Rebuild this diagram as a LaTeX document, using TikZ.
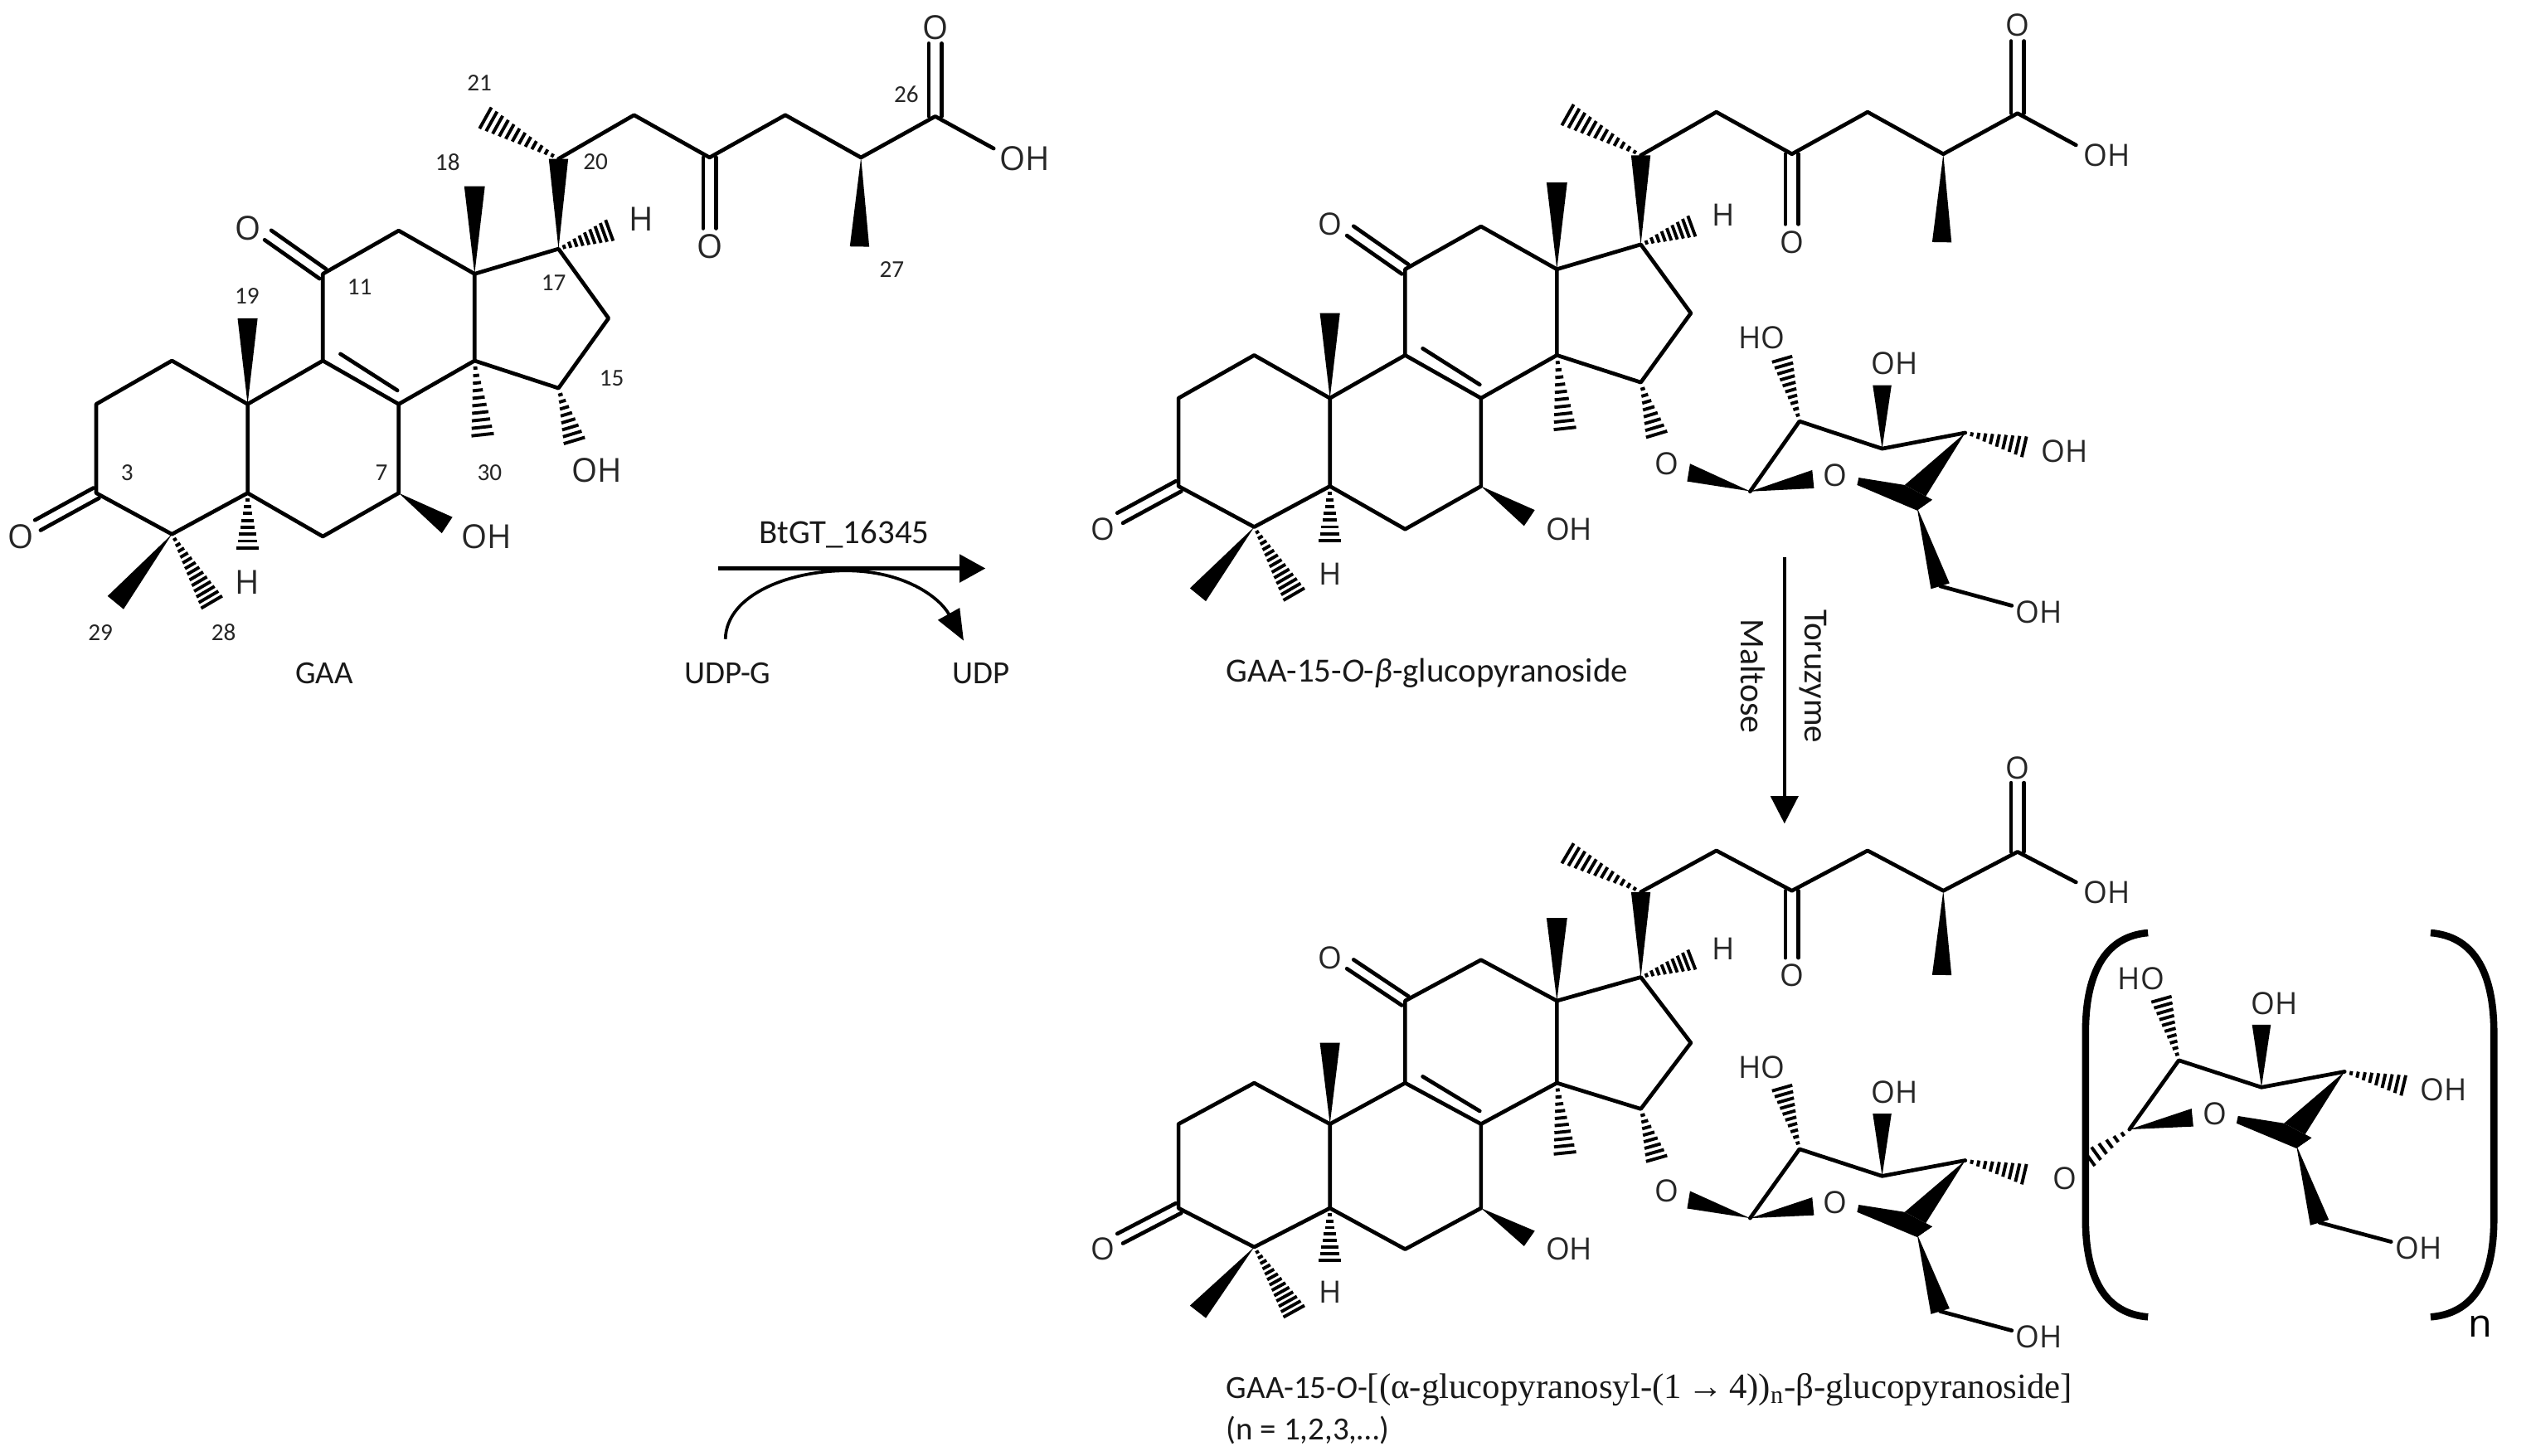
\documentclass[tikz,border=0pt]{standalone}
\usepackage{fontspec}
\setmainfont{Carlito}
\newfontfamily\atomface{Open Sans}
\newfontfamily\serifface{Liberation Serif}
\usetikzlibrary{calc,arrows.meta}
\tikzset{
  bond/.style={line width=2.4pt,line cap=round,line join=round},
  hashline/.style={line width=2pt},
  atom/.style={inner sep=0pt,font=\atomface\fontsize{\atomsize}{\atomsize}\selectfont,text=black!85},
  num/.style={inner sep=0pt,font=\fontsize{15}{15}\selectfont,text=black!85},
  caption/.style={inner sep=0pt,font=\fontsize{20}{24}\selectfont,text=black!90},
  bracket/.style={line width=4.4pt,line cap=butt},
}
\newcommand\wdg[3]{\fill ($(#2)!#3!90:(#1)$) -- ($(#2)!#3!-90:(#1)$) -- (#1) -- cycle;}
\newcommand\hsh[4]{\foreach \i in {1,...,#4}{%
  \pgfmathsetmacro\ff{\i/#4}\pgfmathsetmacro\ww{\ff*#3+0.6}%
  \draw[hashline] ($(#1)!\ff!(#2)!\ww pt!90:(#2)$) -- ($(#1)!\ff!(#2)!\ww pt!-90:(#2)$);}}
\newcommand\dbl[3]{\draw[bond] ($(#1)!#3!90:(#2)$) -- ($(#2)!#3!-90:(#1)$);
  \draw[bond] ($(#1)!#3!-90:(#2)$) -- ($(#2)!#3!90:(#1)$);}
\newcommand\steroid{%
  \coordinate (c1) at (106.5,223.5); \coordinate (c2) at (59.6,250.4);
  \coordinate (c3) at (59.6,305.5); \coordinate (c4) at (106.5,331);
  \coordinate (c5) at (153.4,305.5); \coordinate (c6) at (200,332.4);
  \coordinate (c7) at (247,305.5); \coordinate (c8) at (247,250.4);
  \coordinate (c9) at (200,223.5); \coordinate (c10) at (153.4,250.4);
  \coordinate (c11) at (200,169.7); \coordinate (c12) at (247,142.9);
  \coordinate (c13) at (294,169.7); \coordinate (c14) at (294,223.5);
  \coordinate (c15) at (346,240.5); \coordinate (c16) at (377,197.2);
  \coordinate (c17) at (346,154.2); \coordinate (c20) at (346,98.4);
  \coordinate (c22) at (392.8,71.3); \coordinate (c23) at (439.6,97.6);
  \coordinate (c24) at (486.5,71.3); \coordinate (c25) at (533.4,97.6);
  \coordinate (c26) at (579.4,72.1);
  \coordinate (oa) at (23.4,325.4); \coordinate (ob) at (166,145.7);
  \coordinate (oc) at (439.6,141.5); \coordinate (od) at (579.4,26.9);
  \coordinate (oe) at (615.6,92);
  \coordinate (t18) at (294,115.4); \coordinate (t19) at (153.4,197.2);
  \coordinate (t21) at (297,71); \coordinate (t27) at (532.5,152.8);
  \coordinate (t28) at (133,376.3); \coordinate (t29) at (71.6,373.4);
  \coordinate (t30) at (299.5,273.9); \coordinate (tH5) at (153.4,343.7);
  \coordinate (tH17) at (381,141.5); \coordinate (tO15) at (357,277);
  \coordinate (tO7) at (277,325.4);
  \coordinate (ia) at (210.9,219.3); \coordinate (ib) at (246.2,241.9);
  \draw[bond] (c3) -- (c2) -- (c1) -- (c10) -- (c5) -- (c4) -- cycle;
  \draw[bond] (c5) -- (c6) -- (c7) -- (c8) -- (c9) -- (c10);
  \draw[bond] (c9) -- (c11) -- (c12) -- (c13) -- (c14) -- (c8);
  \draw[bond] (c13) -- (c17) -- (c16) -- (c15) -- (c14);
  \draw[bond] (c20) -- (c22) -- (c23) -- (c24) -- (c25) -- (c26) -- (oe);
  \draw[bond] (ia) -- (ib);
  \dbl{c3}{oa}{3.6pt} \dbl{c11}{ob}{3.6pt} \dbl{c23}{oc}{4pt} \dbl{c26}{od}{4pt}
  \wdg{c13}{t18}{6.4pt} \wdg{c10}{t19}{6.2pt} \wdg{c17}{c20}{6pt}
  \wdg{c25}{t27}{6pt} \wdg{c4}{t29}{6.4pt} \wdg{c7}{tO7}{6pt}
  \hsh{c20}{t21}{7.5}{13} \hsh{c4}{t28}{7.5}{14} \hsh{c14}{t30}{7}{11}
  \hsh{c5}{tH5}{7}{9} \hsh{c17}{tH17}{7}{10} \hsh{c15}{tO15}{7}{9}
  \node[atom] (la) at (12.8,332.4) {O};
  \node[atom] (lb) at (153.4,141.5) {O};
  \node[atom] (lc) at (439.6,152.8) {O};
  \node[atom] (ld) at (579.4,17) {O};
  \node[atom] (le) at (634.7,98.5) {OH};
  \node[atom] (lf) at (301.6,332.4) {OH};
  \node[atom] (lg) at (153.4,360.7) {H};
  \node[atom] (lh) at (397,135.8) {H};
}
% local coordinates are those of the third molecule's first sugar
\newcommand\sugar[1]{%
  \coordinate (s1) at (1084.2,754.8); \coordinate (s2) at (1114.8,712);
  \coordinate (s3) at (1166,728.7); \coordinate (s4) at (1217.5,719);
  \coordinate (s6) at (1202,812.5); \coordinate (s7) at (1246.3,824.4);
  \coordinate (s5) at (1187.6,764.5);
  \coordinate (th) at (1103,670.4); \coordinate (tw) at (1166,690);
  \coordinate (tx) at (1258,728.5);
  \draw[bond] (s1) -- (s2) -- (s3) -- (s4);
  \draw[bond] (s6) -- (s7);
  \hsh{s2}{th}{6.5}{11} \wdg{s3}{tw}{5.8pt} \hsh{s4}{tx}{6.5}{10}
  \wdg{s5}{s6}{6pt}
  \fill (s1) -- (1122.7,741.9) -- (1123.8,753) -- cycle;
  \fill (s4) -- (1180,751) -- (1197,760) -- (1187.6,766.5) -- cycle;
  \fill (1151.5,746.5) -- (1150.5,751) -- (1187.6,766.5) -- (1197,760) -- (1180,751) -- cycle;
  \node[atom] (ra) at (1137,745) {O};
  \node[atom] (rb) at (1091.4,661.3) {HO};
  \node[atom] (rc) at (1173.9,676.9) {OH};
  \node[atom] (rd) at (1263.3,828.3) {OH};
  \node[atom] (re) at (1279,730.4) {#1};
}
\newcommand\oxylink{%
  \fill (1084.2,754.8) -- (1047,738) -- (1045.2,748.8) -- cycle;
  \node[atom] (rf) at (1032.6,738) {O};
}
\begin{document}
\begin{tikzpicture}[x=1pt,y=-1pt]
\useasboundingbox (0,0) rectangle (1568,902);
\fill[white] (0,0) rectangle (1568,902);
\def\atomsize{20.5}
\begin{scope}[name prefix=a-]
  \steroid
  \node[atom] (oh15) at (369.8,291.5) {OH};
  \node[num] (n21) at (297,51.5) {21};
  \node[num] (n18) at (277.3,100.4) {18};
  \node[num] (n20) at (369,100.4) {20};
  \node[num] (n26) at (561.5,58.6) {26};
  \node[num] (n27) at (552.5,167) {27};
  \node[num] (n19) at (153,183.3) {19};
  \node[num] (n11) at (222.8,177.7) {11};
  \node[num] (n17) at (343,175.4) {17};
  \node[num] (n15) at (379,234.2) {15};
  \node[num] (n3) at (78.8,293) {3};
  \node[num] (n7) at (236.4,293) {7};
  \node[num] (n30) at (303.3,293) {30};
  \node[num] (n29) at (62.2,391.8) {29};
  \node[num] (n28) at (138.5,391.8) {28};
\end{scope}
\def\atomsize{19}
\begin{scope}[name prefix=b-,xshift=670.5pt,yshift=1.18pt,yscale=.99]
  \steroid
\end{scope}
\begin{scope}[name prefix=c-,xshift=670.5pt,yshift=-459.6pt,yscale=.946]
  \steroid
\end{scope}
\begin{scope}[name prefix=d-,yshift=462.5pt,yscale=1.016]
  \sugar{OH}\oxylink
\end{scope}
\begin{scope}[name prefix=e-]
  \sugar{O}\oxylink
\end{scope}
\begin{scope}[name prefix=f-,xshift=235pt,yshift=55pt]
  \sugar{OH}
  \hsh{s1}{1055.3,775.7}{6}{7}
\end{scope}
% brackets
\draw[bracket] (1330.7,578) .. controls (1306,580) and (1292,600) .. (1292,640) -- (1292,755) .. controls (1292,795) and (1306,814) .. (1330.7,816);
\draw[bracket] (1505.8,578) .. controls (1531,580) and (1545,600) .. (1545,640) -- (1545,755) .. controls (1545,795) and (1531,814) .. (1505.8,816);
\node[inner sep=0pt,font=\atomface\fontsize{24}{24}\selectfont] (nn) at (1536.5,822) {n};
% reaction 1
\node[caption] (gaa) at (201,417) {GAA};
\node[caption,font=\fontsize{21}{24}\selectfont] (enz) at (523,331) {BtGT\_16345};
\node[caption] (udpg) at (450.7,417) {UDP-G};
\node[caption] (udp) at (608,417) {UDP};
\coordinate (a1s) at (445,352.2); \coordinate (a1e) at (610.5,352.2);
\draw[line width=2.5pt,-{Triangle[length=16pt,width=17pt]}] (a1s) -- (a1e);
\coordinate (cvs) at (449.4,396); \coordinate (cvm) at (524,353.6); \coordinate (cve) at (597,397);
\draw[line width=1.9pt,-{Triangle[length=19pt,width=15pt]}] (cvs) .. controls (450,368) and (490,353.6) .. (cvm) .. controls (560,353.6) and (582,370) .. (cve);
% product 1
\node[caption,font=\fontsize{21}{24}\selectfont,anchor=west] (cap2) at (759.6,417) {GAA-15-\textit{O}-\textit{β}-glucopyranoside};
% reaction 2
\coordinate (a2s) at (1105.5,345); \coordinate (a2e) at (1105.5,510.3);
\draw[line width=1.9pt,-{Triangle[length=17pt,width=17pt]}] (a2s) -- (a2e);
\node[inner sep=0pt,rotate=-90,font=\fontsize{21}{23}\selectfont,text=black!90] (toru) at (1123,419) {Toruzyme};
\node[inner sep=0pt,rotate=-90,font=\fontsize{21.5}{23}\selectfont,text=black!90] (malt) at (1086,419) {Maltose};
% product 2
\node[caption,anchor=west] (cap3) at (759.6,861) {GAA-15-\textit{O}-{\serifface\fontsize{22}{24}\selectfont[(α-glucopyranosyl-(1\,→\,4))\textsubscript{n}-β-glucopyranoside]}};
\node[caption,anchor=west] (cap4) at (759.6,886) {(n = 1,2,3,…)};
\end{tikzpicture}
\end{document}
